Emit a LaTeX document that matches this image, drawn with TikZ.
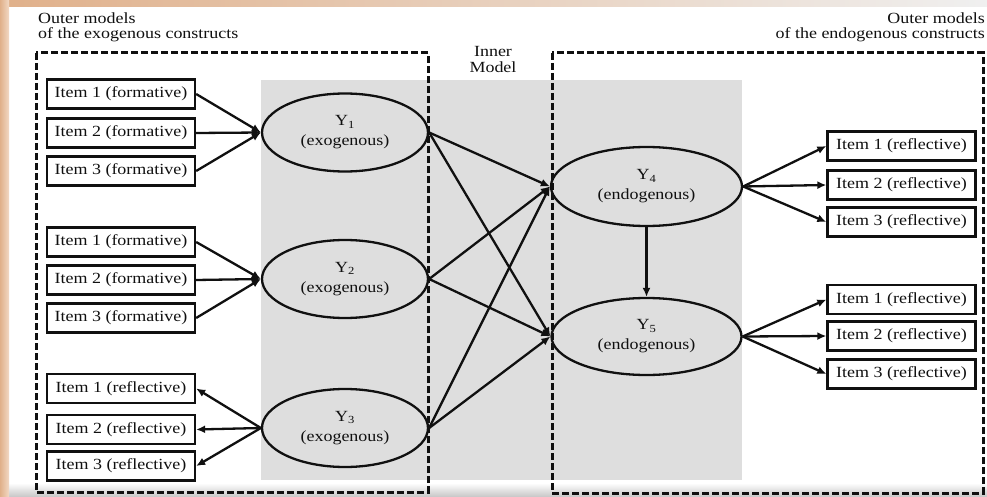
\documentclass[tikz,border=0pt]{standalone}
\usepackage{fontspec}
\setmainfont[FakeStretch=1.16]{Liberation Serif}
\usetikzlibrary{shapes.geometric,arrows.meta}
\definecolor{panel}{HTML}{DEDEDE}
\definecolor{tanA}{HTML}{E0B08A}
\definecolor{tanB}{HTML}{F2D9C4}
\definecolor{ink}{HTML}{101010}
\begin{document}
\begin{tikzpicture}[x=1pt,y=-1pt,
  item/.style={draw=ink,line width=2.3pt,fill=white,minimum width=148pt,minimum height=29pt,inner sep=0pt,font=\fontsize{15.5}{18}\selectfont,text=ink},
  latent/.style={ellipse,draw=ink,line width=2.3pt,inner sep=0pt,align=center,font=\fontsize{15.5}{20}\selectfont,text=ink},
  arr/.style={draw=ink,line width=2.3pt,-{Latex[length=9pt,width=8pt]}},
  outerbox/.style={draw=ink,line width=3pt,dash pattern=on 7pt off 3pt},
  lbl/.style={font=\fontsize{15.5}{16}\selectfont,text=ink,inner sep=0pt}]
\useasboundingbox (0,0) rectangle (987,497);
% backdrop
\fill[white] (0,0) rectangle (987,497);
\shade[top color=white,bottom color=gray!45] (0,483) rectangle (987,497);
\shade[left color=tanA,right color=gray!12] (0,0) rectangle (987,7);
\shade[left color=tanA,right color=tanB] (0,0) rectangle (9,497);
% inner model panel
\fill[panel] (261,80) rectangle (742,480);
% outer model frames
\draw[outerbox] (36,53) rectangle (428,492);
\draw[outerbox] (552,53) rectangle (983,493);
% titles
\node[lbl,anchor=west] (t1) at (38,18) {Outer models};
\node[lbl,anchor=west] (t2) at (38,35) {of the exogenous constructs};
\node[lbl,anchor=east] (t3) at (985,18) {Outer models};
\node[lbl,anchor=east] (t4) at (985,35) {of the endogenous constructs};
\node[lbl,align=center] (inner) at (493,60) {Inner\\Model};
% items left
\node[item] (a1) at (121,94) {Item 1 (formative)};
\node[item] (a2) at (121,133) {Item 2 (formative)};
\node[item] (a3) at (121,171) {Item 3 (formative)};
\node[item] (b1) at (121,242) {Item 1 (formative)};
\node[item] (b2) at (121,280) {Item 2 (formative)};
\node[item] (b3) at (121,318) {Item 3 (formative)};
\node[item] (c1) at (121,388.5) {Item 1 (reflective)};
\node[item] (c2) at (121,429.5) {Item 2 (reflective)};
\node[item] (c3) at (121,466) {Item 3 (reflective)};
% items right
\node[item] (d1) at (901.5,146) {Item 1 (reflective)};
\node[item] (d2) at (901.5,185) {Item 2 (reflective)};
\node[item] (d3) at (901.5,222) {Item 3 (reflective)};
\node[item] (e1) at (901.5,299.5) {Item 1 (reflective)};
\node[item] (e2) at (901.5,336) {Item 2 (reflective)};
\node[item] (e3) at (901.5,374) {Item 3 (reflective)};
% latent constructs
\node[latent,minimum width=166pt,minimum height=78pt] (Y1) at (345,132.5) {Y\textsubscript{1}\\(exogenous)};
\node[latent,minimum width=166pt,minimum height=78pt] (Y2) at (345,279) {Y\textsubscript{2}\\(exogenous)};
\node[latent,minimum width=166pt,minimum height=78pt] (Y3) at (345,428) {Y\textsubscript{3}\\(exogenous)};
\node[latent,minimum width=191pt,minimum height=79pt] (Y4) at (646.5,186.5) {Y\textsubscript{4}\\(endogenous)};
\node[latent,minimum width=190pt,minimum height=77pt] (Y5) at (646.5,336.5) {Y\textsubscript{5}\\(endogenous)};
% outer model arrows
\foreach \s in {a1,a2,a3} \draw[arr] (\s.east) -- (Y1.west);
\foreach \s in {b1,b2,b3} \draw[arr] (\s.east) -- (Y2.west);
\foreach \t in {c1,c2,c3} \draw[arr] (Y3.west) -- (\t.east);
\foreach \t in {d1,d2,d3} \draw[arr] (Y4.east) -- (\t.west);
\foreach \t in {e1,e2,e3} \draw[arr] (Y5.east) -- (\t.west);
% inner model arrows
\foreach \s in {Y1,Y2,Y3} {
  \draw[arr] (\s.east) -- (Y4.west);
  \draw[arr] (\s.east) -- (Y5.west);
}
\draw[arr] (Y4.south) -- (Y5.north);
\end{tikzpicture}
\end{document}
